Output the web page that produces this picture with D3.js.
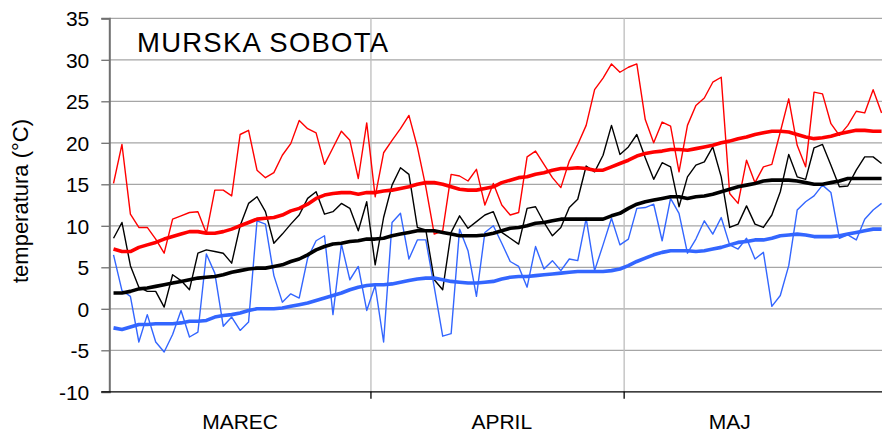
<!DOCTYPE html>
<html>
<head>
<meta charset="utf-8">
<script src="https://cdn.jsdelivr.net/npm/d3@7"></script>
<style>
  html, body { margin: 0; padding: 0; background: #fff; }
  svg { display: block; font-family: "Liberation Sans", Arial, sans-serif; }
</style>
</head>
<body>
<svg id="chart" width="882" height="432"></svg>
<script>
// Daily temperatures, 1 March – 31 May (92 days)
const monthNames = ["MAREC", "APRIL", "MAJ"];
const monthDays = [31, 30, 31];
const monthLabelDay = [15, 46, 73];
const yTicks = [-10, -5, 0, 5, 10, 15, 20, 25, 30, 35];

// daily maximum
const tMax = [15.1, 19.8, 11.4, 9.8, 9.8, 8.4, 6.7, 10.8, 11.2, 11.6, 11.7, 9.1, 14.3, 14.3, 13.6, 21.0, 21.5, 16.7, 15.8, 16.4,
  18.5, 19.9, 22.7, 21.7, 21.2, 17.4, 19.4, 21.4, 20.3, 15.7, 22.4, 13.5, 18.8, 20.3, 21.7, 23.3, 19.5, 14.7, 9.0, 9.4,
  16.2, 16.0, 15.4, 16.8, 12.5, 15.1, 12.5, 11.3, 11.6, 18.3, 19.0, 17.4, 15.8, 14.6, 17.8, 19.8, 22.1, 26.4, 27.8, 29.5,
  28.5, 29.1, 29.5, 22.8, 20.0, 22.5, 22.0, 16.5, 22.1, 24.5, 25.4, 27.3, 27.9, 13.9, 12.7, 17.9, 15.2, 17.1, 17.4, 21.3,
  25.3, 19.7, 17.1, 26.1, 25.9, 22.3, 20.9, 22.1, 23.8, 23.6, 26.4, 23.6];
// daily mean
const tMean = [8.5, 10.4, 5.2, 2.6, 2.1, 2.1, 0.2, 4.1, 3.4, 2.3, 6.7, 7.1, 6.9, 6.7, 5.5, 10.0, 12.7, 13.5, 11.7, 7.9,
  9.0, 10.2, 11.3, 13.3, 14.1, 11.4, 11.7, 12.7, 12.1, 9.4, 12.9, 5.3, 11.0, 14.9, 17.0, 16.2, 9.8, 9.5, 3.5, 2.3,
  9.2, 11.2, 9.7, 10.5, 11.3, 11.7, 9.2, 8.5, 7.8, 12.1, 12.3, 10.4, 8.8, 9.8, 12.2, 13.2, 17.2, 16.5, 18.5, 22.1,
  18.6, 19.5, 21.0, 18.2, 15.6, 17.6, 17.1, 12.3, 15.9, 17.3, 17.7, 19.5, 15.9, 9.8, 10.2, 12.4, 10.2, 9.8, 11.3, 14.1,
  18.6, 15.9, 15.6, 19.4, 19.8, 17.3, 14.7, 14.8, 16.7, 18.3, 18.3, 17.5];
// daily minimum
const tMin = [6.5, 2.2, 1.5, -4.0, -0.7, -4.0, -5.2, -3.1, -0.2, -3.4, -2.8, 6.6, 4.3, -2.1, -1.0, -2.6, -1.6, 10.6, 10.2, 4.0,
  0.8, 1.8, 1.3, 6.1, 8.2, 8.8, -0.7, 7.8, 3.5, 5.1, -0.2, 2.8, -4.0, 10.4, 11.5, 6.0, 8.3, 8.3, 2.6, -3.3,
  -3.0, 9.6, 7.0, 1.5, 9.2, 10.0, 7.9, 5.7, 5.1, 2.6, 7.5, 4.8, 5.8, 4.6, 6.0, 5.8, 10.9, 4.6, 7.7, 10.9,
  7.7, 8.4, 12.1, 12.2, 12.6, 8.2, 13.3, 11.5, 6.7, 8.4, 10.6, 9.0, 11.0, 7.7, 7.2, 8.5, 6.0, 6.8, 0.3, 1.6,
  5.2, 11.9, 12.9, 13.6, 14.9, 14.0, 8.5, 8.9, 8.3, 10.8, 11.9, 12.7];

// long-term average maximum
const avgMax = [7.2, 6.9, 6.9, 7.4, 7.7, 8.0, 8.4, 8.7, 9.0, 9.3, 9.3, 9.1, 9.1, 9.3, 9.6, 10.0, 10.4, 10.8, 10.9, 11.0,
  11.3, 11.8, 12.1, 12.6, 13.3, 13.7, 13.9, 14.0, 14.0, 13.8, 14.0, 14.0, 14.2, 14.3, 14.5, 14.7, 15.0, 15.2, 15.2, 15.0,
  14.7, 14.4, 14.3, 14.3, 14.5, 14.7, 15.2, 15.5, 15.8, 15.9, 16.2, 16.4, 16.7, 16.9, 16.9, 17.0, 16.9, 16.7, 16.7, 17.1,
  17.5, 17.9, 18.4, 18.7, 18.9, 19.0, 19.2, 19.2, 19.1, 19.3, 19.5, 19.7, 20.0, 20.2, 20.5, 20.7, 21.0, 21.2, 21.4, 21.4,
  21.3, 21.0, 20.7, 20.5, 20.6, 20.8, 21.1, 21.3, 21.5, 21.5, 21.4, 21.4];
// long-term average mean
const avgMean = [1.9, 1.9, 2.1, 2.4, 2.5, 2.7, 2.9, 3.1, 3.3, 3.5, 3.7, 3.8, 3.9, 4.1, 4.4, 4.6, 4.8, 4.9, 4.9, 5.1,
  5.3, 5.7, 6.0, 6.5, 7.1, 7.5, 7.8, 7.9, 8.1, 8.2, 8.4, 8.4, 8.5, 8.8, 9.0, 9.2, 9.4, 9.4, 9.4, 9.2,
  9.0, 8.8, 8.8, 8.8, 8.9, 9.1, 9.4, 9.7, 9.8, 10.0, 10.3, 10.4, 10.6, 10.8, 10.8, 10.8, 10.8, 10.8, 10.8, 11.2,
  11.5, 12.1, 12.6, 12.9, 13.1, 13.3, 13.5, 13.5, 13.3, 13.5, 13.6, 13.8, 14.1, 14.4, 14.7, 14.9, 15.1, 15.4, 15.5, 15.5,
  15.5, 15.4, 15.2, 15.0, 15.0, 15.2, 15.4, 15.7, 15.7, 15.7, 15.7, 15.7];
// long-term average minimum
const avgMin = [-2.3, -2.5, -2.2, -1.9, -1.9, -1.8, -1.8, -1.8, -1.7, -1.5, -1.5, -1.4, -1.0, -0.8, -0.7, -0.5, -0.2, 0.0, 0.0, 0.0,
  0.1, 0.3, 0.5, 0.7, 1.0, 1.3, 1.6, 1.9, 2.3, 2.6, 2.8, 2.9, 2.9, 3.0, 3.2, 3.4, 3.6, 3.7, 3.7, 3.5,
  3.3, 3.2, 3.1, 3.1, 3.2, 3.3, 3.6, 3.8, 3.9, 3.9, 4.0, 4.1, 4.2, 4.3, 4.4, 4.5, 4.5, 4.5, 4.5, 4.6,
  4.8, 5.2, 5.7, 6.1, 6.5, 6.8, 7.0, 7.0, 7.0, 6.9, 7.0, 7.2, 7.4, 7.7, 8.0, 8.1, 8.3, 8.3, 8.5, 8.8,
  8.9, 9.0, 8.9, 8.7, 8.7, 8.7, 8.8, 9.0, 9.2, 9.4, 9.6, 9.6];

const svg = d3.select("#chart");
const plotLeft = 109.3, plotRight = 885.8, plotTop = 18.3, plotBottom = 391.8;
const nDays = d3.sum(monthDays);
const days = d3.range(nDays);

const x = d3.scalePoint().domain(days).range([plotLeft, plotRight]).padding(0.5);
const step = x.step();
const y = d3.scaleLinear().domain([-10, 35]).range([plotBottom, plotTop]);

// horizontal gridlines
svg.append("g")
  .selectAll("line")
  .data(yTicks.filter(d => d > -10))
  .join("line")
  .attr("x1", plotLeft).attr("x2", 882)
  .attr("y1", d => y(d)).attr("y2", d => y(d))
  .attr("stroke", "#a6a6a6").attr("stroke-width", 1.2);

// month boundaries
const bounds = d3.cumsum(monthDays).slice(0, -1);
svg.append("g")
  .selectAll("line")
  .data(bounds)
  .join("line")
  .attr("x1", d => plotLeft + d * step).attr("x2", d => plotLeft + d * step)
  .attr("y1", plotTop).attr("y2", plotBottom)
  .attr("stroke", "#bdbdbd").attr("stroke-width", 1.3);

// y axis (plain hyphen for negative values)
const yAxis = d3.axisLeft(y).tickValues(yTicks).tickFormat(d => String(d)).tickSize(8).tickPadding(12);
const gy = svg.append("g").attr("transform", `translate(${plotLeft},0)`).call(yAxis);
gy.select(".domain").attr("stroke", "#707070").attr("stroke-width", 2);
gy.selectAll(".tick line").attr("stroke", "#707070").attr("stroke-width", 1.3);
gy.selectAll(".tick text")
  .attr("font-size", 21).attr("fill", "#000")
  .attr("font-family", "Liberation Sans, Arial, sans-serif")
  .attr("dy", "0.36em");

// x axis with month separators
svg.append("line")
  .attr("x1", plotLeft - 8).attr("x2", 882)
  .attr("y1", plotBottom).attr("y2", plotBottom)
  .attr("stroke", "#000").attr("stroke-width", 1.3);
svg.append("g")
  .selectAll("line")
  .data(bounds)
  .join("line")
  .attr("x1", d => plotLeft + d * step).attr("x2", d => plotLeft + d * step)
  .attr("y1", plotBottom).attr("y2", plotBottom + 7)
  .attr("stroke", "#000").attr("stroke-width", 1.3);

svg.append("g")
  .selectAll("text")
  .data(monthNames)
  .join("text")
  .attr("x", (d, i) => x(monthLabelDay[i]))
  .attr("y", 429)
  .attr("text-anchor", "middle")
  .attr("font-size", 21)
  .text(d => d);

// y axis title
svg.append("text")
  .attr("transform", "translate(28,201) rotate(-90)")
  .attr("text-anchor", "middle")
  .attr("font-size", 22)
  .text("temperatura (°C)");

// station name
svg.append("text")
  .attr("x", 137)
  .attr("y", 52.3)
  .attr("font-size", 27.5)
  .attr("textLength", 251)
  .text("MURSKA SOBOTA");

const plot = svg.append("g");
const line = d3.line().x((d, i) => x(i)).y(d => y(d));

const series = [
  { values: tMin, color: "#3366ff", width: 1.4 },
  { values: tMax, color: "#ff0000", width: 1.4 },
  { values: tMean, color: "#000000", width: 1.4 },
  { values: avgMin, color: "#3366ff", width: 3.6 },
  { values: avgMax, color: "#ff0000", width: 3.6 },
  { values: avgMean, color: "#000000", width: 3.6 }
];

plot.selectAll("path")
  .data(series)
  .join("path")
  .attr("d", d => line(d.values))
  .attr("fill", "none")
  .attr("stroke", d => d.color)
  .attr("stroke-width", d => d.width)
  .attr("stroke-linejoin", "round");
</script>
</body>
</html>
